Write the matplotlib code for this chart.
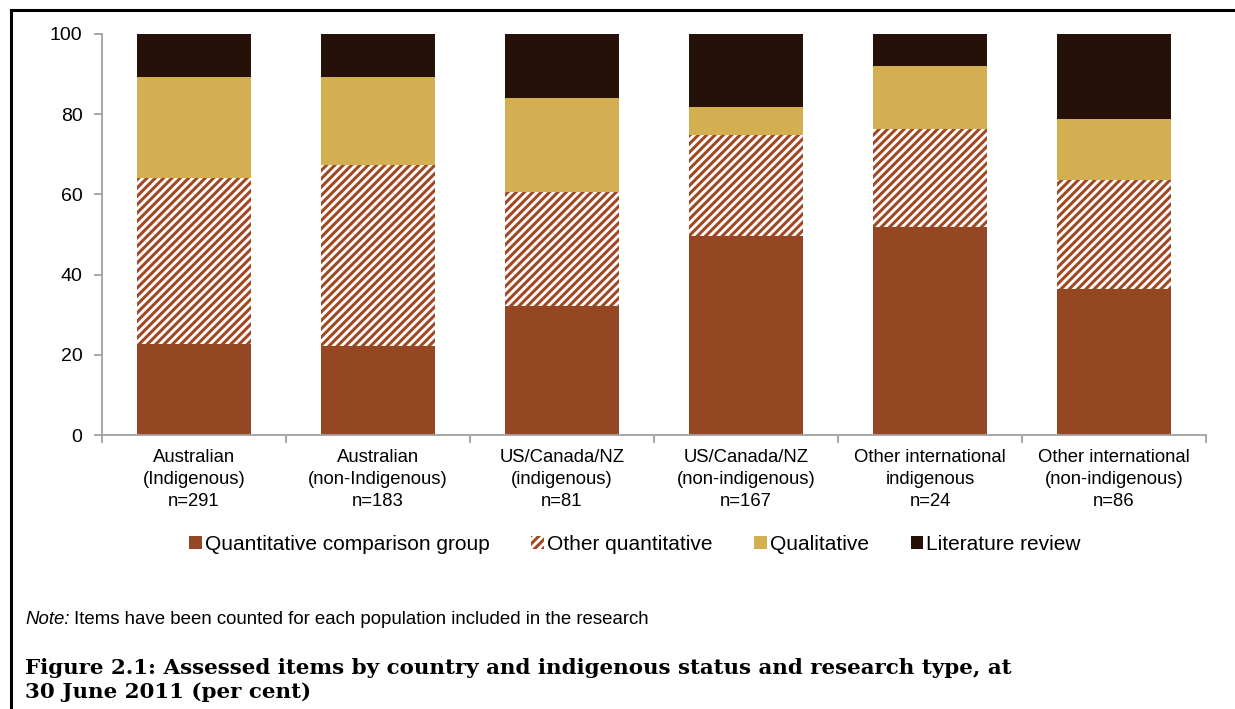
import matplotlib
matplotlib.use("Agg")
import matplotlib.pyplot as plt
from matplotlib.lines import Line2D
from matplotlib.patches import Patch
import numpy as np

plt.rcParams['font.family'] = ['Liberation Sans', 'DejaVu Sans']
plt.rcParams['hatch.linewidth'] = 2.2
plt.rcParams['hatch.color'] = '#A04A24'

categories = ["Australian\n(Indigenous)\nn=291",
              "Australian\n(non-Indigenous)\nn=183",
              "US/Canada/NZ\n(indigenous)\nn=81",
              "US/Canada/NZ\n(non-indigenous)\nn=167",
              "Other international\nindigenous\nn=24",
              "Other international\n(non-indigenous)\nn=86"]
quant_comparison = [22.7, 22.2, 32.2, 49.6, 51.9, 36.4]
other_quant = [41.4, 45.1, 28.4, 25.2, 24.4, 27.2]
qualitative = [25.2, 22.0, 23.4, 7.0, 15.7, 15.2]
literature = [10.7, 10.7, 16.0, 18.2, 8.0, 21.2]
yticks = [0, 20, 40, 60, 80, 100]

c_comp = '#954622'
c_qual = '#D4AF52'
c_lit = '#261108'

fig = plt.figure(figsize=(12.35, 7.09), dpi=100)
ax = fig.add_axes([102/1235, 1-435/709, (1206-102)/1235, (435-34)/709])

x = np.arange(len(categories))
w = 0.62
b1 = np.array(quant_comparison)
b2 = b1 + np.array(other_quant)
b3 = b2 + np.array(qualitative)
ax.bar(x, quant_comparison, w, color=c_comp, linewidth=0)
ax.bar(x, other_quant, w, bottom=b1, facecolor='white', edgecolor='#A04A24', hatch='////', linewidth=0)
ax.bar(x, qualitative, w, bottom=b2, color=c_qual, linewidth=0)
ax.bar(x, literature, w, bottom=b3, color=c_lit, linewidth=0)

ax.set_xlim(-0.5, len(categories) - 0.5)
ax.set_ylim(0, 100)
ax.set_yticks(yticks)
ax.tick_params(axis='y', labelsize=14, length=6, width=1.3, color='#A0A0A0', pad=8)
ax.set_xticks(x)
ax.set_xticklabels(categories, fontsize=13.3, linespacing=1.4)
ax.tick_params(axis='x', which='major', length=0, pad=10)
ax.set_xticks(np.arange(-0.5, len(categories)), minor=True)
ax.tick_params(axis='x', which='minor', length=6, width=1.3, color='#A0A0A0')
for s in ['top', 'right']:
    ax.spines[s].set_visible(False)
for s in ['left', 'bottom']:
    ax.spines[s].set_color('#A0A0A0')
    ax.spines[s].set_linewidth(1.3)

handles = [Patch(facecolor=c_comp, linewidth=0),
           Patch(facecolor='white', edgecolor='#A04A24', hatch='////', linewidth=0),
           Patch(facecolor=c_qual, linewidth=0),
           Patch(facecolor=c_lit, linewidth=0)]
labels = ["Quantitative comparison group", "Other quantitative", "Qualitative", "Literature review"]
fig.legend(handles, labels, loc='center', bbox_to_anchor=(635/1235, 1-544/709), ncol=4,
           frameon=False, fontsize=15, handlelength=0.6, handleheight=0.6,
           handletextpad=0.15, columnspacing=2.0)

note1 = fig.text(25/1235, 1-619/709, "Note:", fontsize=13.4, va='center', ha='left', fontstyle='italic')
fig.canvas.draw()
bb = note1.get_window_extent(renderer=fig.canvas.get_renderer())
fig.text(bb.x1/1235 + 4/1235, 1-619/709, "Items have been counted for each population included in the research",
         fontsize=13.4, va='center', ha='left')
fig.text(25/1235, 1-680/709,
         "Figure 2.1: Assessed items by country and indigenous status and research type, at\n30 June 2011 (per cent)",
         fontsize=15.4, va='center', ha='left', family=['DejaVu Serif'], fontweight='bold', linespacing=1.25)

fig.add_artist(Line2D([11/1235, 1.0], [1-10/709, 1-10/709], color='black', lw=2.2, transform=fig.transFigure))
fig.add_artist(Line2D([11/1235, 11/1235], [1-10/709, 0], color='black', lw=2.2, transform=fig.transFigure))

fig.savefig("out.png", dpi=100)
